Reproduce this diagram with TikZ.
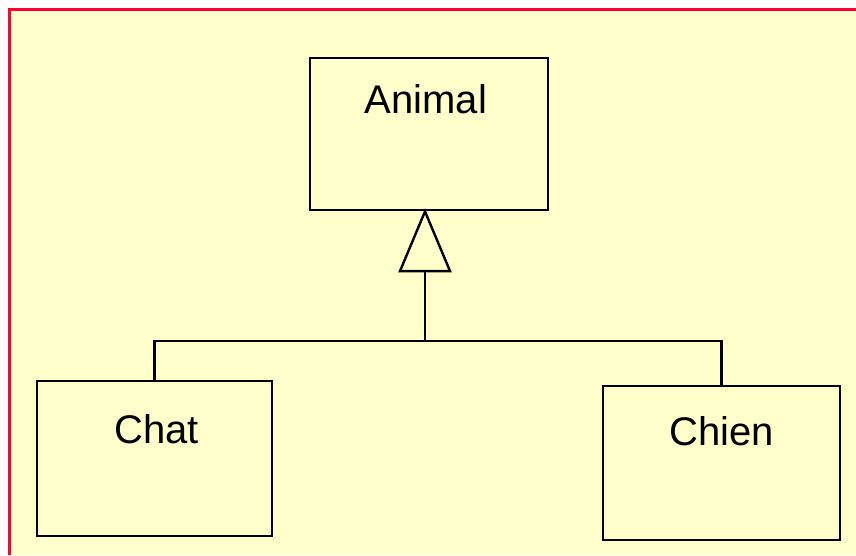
\documentclass[tikz,border=0pt]{standalone}
\usepackage{fontspec}
\setmainfont{Liberation Sans}
\usetikzlibrary{arrows.meta,positioning,calc}
\definecolor{pagebg}{HTML}{FFFFCC}
\definecolor{frame}{HTML}{FF0033}
\tikzset{
  classbox/.style={rectangle, draw=black, line width=2.6pt, inner sep=0pt},
  classname/.style={font=\fontsize{40}{48}\selectfont, inner sep=0pt},
  inherit/.style={-{Triangle[open, length=64pt, width=53pt, line width=2.4pt]}, line width=2.6pt, shorten >=-3pt},
  branch/.style={line width=2.6pt},
}
\begin{document}
\begin{tikzpicture}[x=1pt, y=1pt]
  \useasboundingbox (0,0) rectangle (856,-555);
  % page background and frame
  \fill[pagebg] (9,-9) rectangle (856,-555);
  \draw[frame, line width=3pt] (9,-555) -- (9,-9) -- (856,-9);
  % classes
  \node[classbox, minimum width=238pt, minimum height=152pt] (animal) at (429,-134) {};
  \node[classbox, minimum width=235pt, minimum height=155pt] (chat) at (154.5,-458.5) {};
  \node[classbox, minimum width=237pt, minimum height=154pt] (chien) at (721.5,-463) {};
  \node[classname] (animalname) at ([xshift=-3pt, yshift=-42pt]animal.north) {Animal};
  \node[classname] (chatname) at ([xshift=2pt, yshift=-49pt]chat.north) {Chat};
  \node[classname] (chienname) at ([yshift=-46pt]chien.north) {Chien};
  % inheritance
  \coordinate (join) at (425,-341);
  \draw[inherit] (join) -- (join |- animal.south);
  \draw[branch] (join) -| (chat.north);
  \draw[branch] (join) -| (chien.north);
\end{tikzpicture}
\end{document}
